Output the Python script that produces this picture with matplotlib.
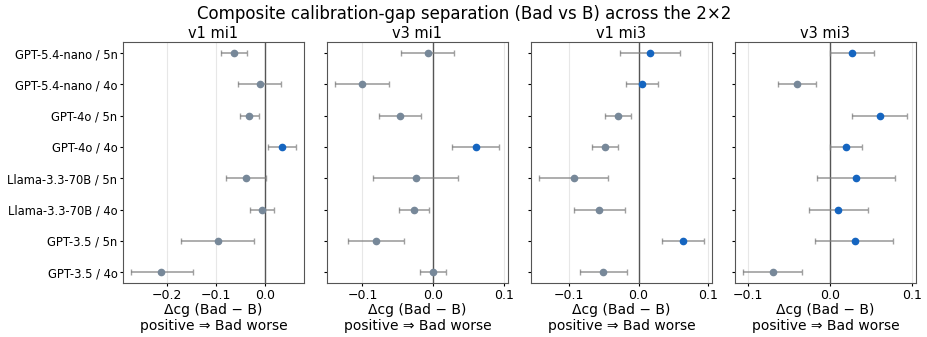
import numpy as np
import matplotlib
matplotlib.use("Agg")
import matplotlib.pyplot as plt

pairs = ["GPT-5.4-nano / 5n", "GPT-5.4-nano / 4o", "GPT-4o / 5n", "GPT-4o / 4o",
         "Llama-3.3-70B / 5n", "Llama-3.3-70B / 4o", "GPT-3.5 / 5n", "GPT-3.5 / 4o"]
panels = ["v1 mi1", "v3 mi1", "v1 mi3", "v3 mi3"]

# point estimate, CI low, CI high for each panel
v1_mi1 = [-0.064, -0.012, -0.033, 0.034, -0.040, -0.007, -0.097, -0.211]
v1_mi1_lo = [-0.090, -0.056, -0.052, 0.006, -0.080, -0.032, -0.171, -0.273]
v1_mi1_hi = [-0.037, 0.031, -0.014, 0.062, 0.001, 0.018, -0.024, -0.148]

v3_mi1 = [-0.008, -0.101, -0.047, 0.060, -0.025, -0.028, -0.081, -0.001]
v3_mi1_lo = [-0.046, -0.138, -0.076, 0.026, -0.085, -0.049, -0.121, -0.019]
v3_mi1_hi = [0.029, -0.063, -0.018, 0.093, 0.034, -0.006, -0.041, 0.018]

v1_mi3 = [0.017, 0.005, -0.030, -0.048, -0.093, -0.056, 0.064, -0.051]
v1_mi3_lo = [-0.027, -0.018, -0.048, -0.067, -0.142, -0.092, 0.034, -0.084]
v1_mi3_hi = [0.060, 0.028, -0.011, -0.030, -0.044, -0.020, 0.094, -0.017]

v3_mi3 = [0.027, -0.040, 0.061, 0.019, 0.031, 0.009, 0.030, -0.070]
v3_mi3_lo = [0.000, -0.064, 0.027, 0.000, -0.016, -0.026, -0.018, -0.106]
v3_mi3_hi = [0.054, -0.017, 0.094, 0.039, 0.079, 0.046, 0.077, -0.034]

data = [(v1_mi1, v1_mi1_lo, v1_mi1_hi), (v3_mi1, v3_mi1_lo, v3_mi1_hi),
        (v1_mi3, v1_mi3_lo, v1_mi3_hi), (v3_mi3, v3_mi3_lo, v3_mi3_hi)]
xlims = [(-0.289, 0.078), (-0.150, 0.105), (-0.154, 0.105), (-0.116, 0.1045)]

fig, axes = plt.subplots(1, 4, figsize=(9.28, 3.37), dpi=100, sharey=True)
fig.subplots_adjust(left=0.1325, right=0.987, top=0.875, bottom=0.16, wspace=0.127)

y = np.arange(len(pairs))
for ax, name, (est, lo, hi), xl in zip(axes, panels, data, xlims):
    est = np.array(est); lo = np.array(lo); hi = np.array(hi)
    ax.axvline(0, color="#555555", lw=1, zorder=1)
    for i in range(len(pairs)):
        c = "#1565c0" if est[i] > 0 else "#778899"
        ax.errorbar(est[i], y[i], xerr=[[est[i] - lo[i]], [hi[i] - est[i]]],
                    fmt="o", ms=4.5, color=c, ecolor=(0.5, 0.5, 0.5, 0.75),
                    elinewidth=1.2, capsize=2, zorder=3)
    ax.set_xlim(*xl)
    ax.grid(axis="x", alpha=0.3)
    ax.set_axisbelow(True)
    ax.set_title(name, fontsize=10.5, pad=3)
    ax.set_xlabel("\u0394cg (Bad \u2212 B)\npositive \u21d2 Bad worse", fontsize=10, labelpad=1)
    ax.tick_params(axis="x", labelsize=9, length=2.5, pad=1.5)
    ax.tick_params(axis="y", labelsize=8.3, length=2.5, pad=1.5)
    for s in ax.spines.values():
        s.set_color("#555555")

axes[0].set_yticks(y)
axes[0].set_yticklabels(pairs)
axes[0].set_ylim(len(pairs) - 0.65, -0.35)

fig.suptitle("Composite calibration-gap separation (Bad vs B) across the 2\u00d72", fontsize=12, y=0.985)
fig.savefig("out.png", dpi=100)
